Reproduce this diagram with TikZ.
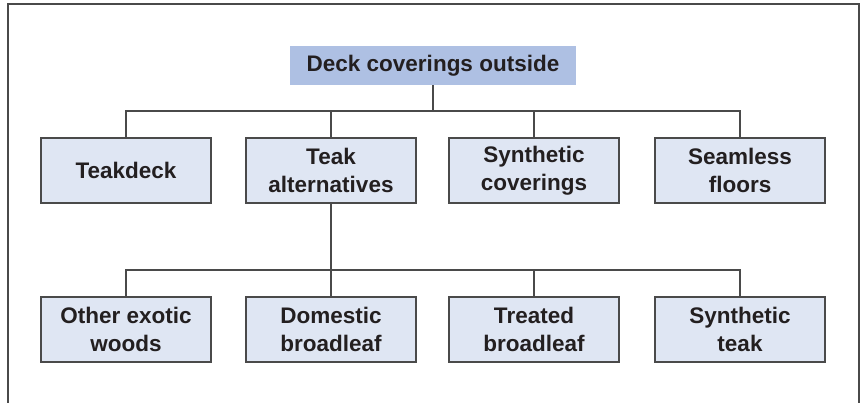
\documentclass[tikz,border=0pt]{standalone}
\usepackage{fontspec}
\setmainfont{Liberation Sans}
\definecolor{topfill}{HTML}{AEC0E3}
\definecolor{boxfill}{HTML}{DFE6F3}
\definecolor{linec}{HTML}{4A4A4A}
\definecolor{textc}{HTML}{231F20}
\begin{document}
\begin{tikzpicture}[x=1pt,y=-1pt,
  box/.style={draw=linec,line width=1.2pt,fill=boxfill,minimum width=170pt,minimum height=65pt,inner sep=0pt,align=center,text=textc,font=\fontsize{22.5}{27.5}\selectfont\bfseries},
  topbox/.style={fill=topfill,minimum width=286pt,minimum height=39pt,inner sep=0pt,text=textc,font=\fontsize{22.5}{27.5}\selectfont\bfseries},
  conn/.style={draw=linec,line width=1.3pt}]
\useasboundingbox (0,0) rectangle (861,403);
\draw[linec,line width=1.8pt] (8,403) -- (8,4) -- (859,4) -- (859,403);
\node[topbox] (top) at (433,65.5) {Deck coverings outside};
\node[box] (a1) at (126,170.5) {Teakdeck};
\node[box] (a2) at (331,170.5) {Teak\\alternatives};
\node[box] (a3) at (534,170.5) {Synthetic\\coverings};
\node[box] (a4) at (740,170.5) {Seamless\\floors};
\node[box] (b1) at (126,329.5) {Other exotic\\woods};
\node[box] (b2) at (331,329.5) {Domestic\\broadleaf};
\node[box] (b3) at (534,329.5) {Treated\\broadleaf};
\node[box] (b4) at (740,329.5) {Synthetic\\teak};
\coordinate (j1) at (433,111);
\coordinate (j2) at (331,270);
\draw[conn] (top.south) -- (j1);
\draw[conn] (j1) -| (a1.north);
\draw[conn] (j1) -| (a2.north);
\draw[conn] (j1) -| (a3.north);
\draw[conn] (j1) -| (a4.north);
\draw[conn] (a2.south) -- (j2);
\draw[conn] (j2) -| (b1.north);
\draw[conn] (j2) -| (b2.north);
\draw[conn] (j2) -| (b3.north);
\draw[conn] (j2) -| (b4.north);
\end{tikzpicture}
\end{document}
